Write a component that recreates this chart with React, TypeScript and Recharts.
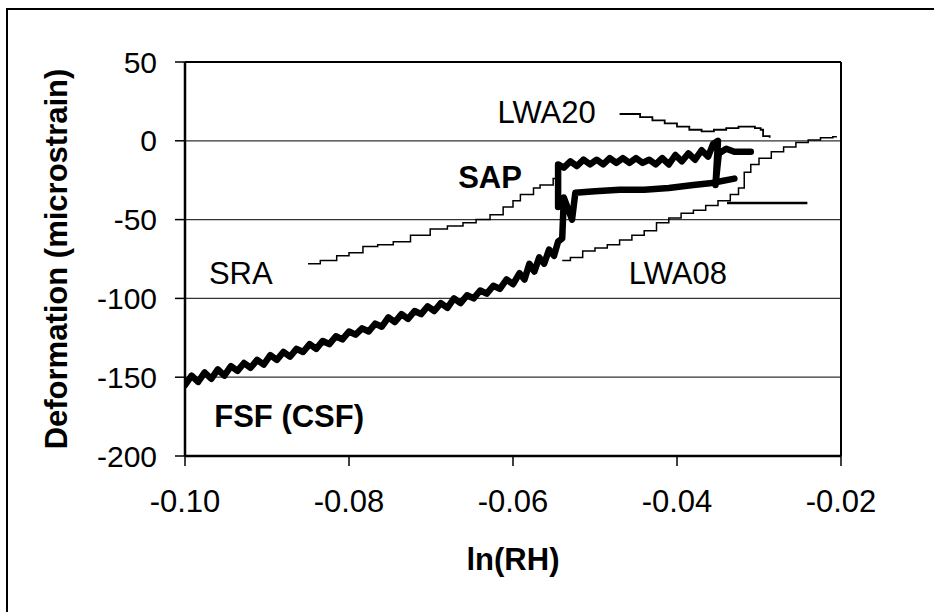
import React from 'react';
import { ComposedChart, Line, XAxis, YAxis, CartesianGrid, ReferenceLine, ReferenceDot } from 'recharts';

const xTicks = [-0.1, -0.08, -0.06, -0.04, -0.02];
const yTicks = [-200, -150, -100, -50, 0, 50];

// FSF (CSF) drying branch + lower loop band (thick)
const fsf = [
  { x: -0.1, y: -155 }, { x: -0.0992, y: -149 }, { x: -0.0984, y: -153 }, { x: -0.0976, y: -147 },
  { x: -0.0968, y: -151 }, { x: -0.096, y: -145 }, { x: -0.0952, y: -149 }, { x: -0.0944, y: -143 },
  { x: -0.0936, y: -146 }, { x: -0.0928, y: -141 }, { x: -0.092, y: -144 }, { x: -0.0912, y: -139 },
  { x: -0.0904, y: -142 }, { x: -0.0896, y: -136 }, { x: -0.0888, y: -139 }, { x: -0.088, y: -134 },
  { x: -0.0872, y: -137 }, { x: -0.0864, y: -132 }, { x: -0.0856, y: -134 }, { x: -0.0848, y: -129 },
  { x: -0.084, y: -132 }, { x: -0.0832, y: -127 }, { x: -0.0824, y: -129 }, { x: -0.0816, y: -124 },
  { x: -0.0808, y: -126 }, { x: -0.08, y: -121 }, { x: -0.0792, y: -123 }, { x: -0.0784, y: -119 },
  { x: -0.0776, y: -121 }, { x: -0.0768, y: -116 }, { x: -0.076, y: -118 }, { x: -0.0752, y: -112 },
  { x: -0.0744, y: -115 }, { x: -0.0736, y: -110 }, { x: -0.0728, y: -113 }, { x: -0.072, y: -108 },
  { x: -0.0712, y: -110 }, { x: -0.0704, y: -105 }, { x: -0.0696, y: -108 }, { x: -0.0688, y: -103 },
  { x: -0.068, y: -106 }, { x: -0.0672, y: -100 }, { x: -0.0664, y: -103 }, { x: -0.0656, y: -98 },
  { x: -0.0648, y: -100 }, { x: -0.064, y: -95 }, { x: -0.0632, y: -97 }, { x: -0.0624, y: -92 },
  { x: -0.0616, y: -94 }, { x: -0.0608, y: -88 }, { x: -0.06, y: -91 }, { x: -0.0592, y: -84 },
  { x: -0.0586, y: -88 }, { x: -0.058, y: -78 }, { x: -0.0574, y: -83 }, { x: -0.0568, y: -74 },
  { x: -0.0562, y: -78 }, { x: -0.0556, y: -69 }, { x: -0.055, y: -73 }, { x: -0.0545, y: -64 },
  { x: -0.054, y: -62 }, { x: -0.0538, y: -36 }, { x: -0.0528, y: -50 }, { x: -0.0524, y: -33 },
  { x: -0.05, y: -32 }, { x: -0.047, y: -31 }, { x: -0.044, y: -31 }, { x: -0.041, y: -30 },
  { x: -0.038, y: -28 }, { x: -0.036, y: -27 }, { x: -0.035, y: -26 }, { x: -0.033, y: -24 },
];

// SAP upper loop band (thick)
const sap = [
  { x: -0.0545, y: -42 }, { x: -0.0545, y: -15 }, { x: -0.0538, y: -17 }, { x: -0.053, y: -13 },
  { x: -0.0522, y: -16 }, { x: -0.0514, y: -12 }, { x: -0.0506, y: -15 }, { x: -0.0498, y: -12 },
  { x: -0.049, y: -15 }, { x: -0.0482, y: -11 }, { x: -0.0474, y: -14 }, { x: -0.0466, y: -11 },
  { x: -0.0458, y: -14 }, { x: -0.045, y: -11 }, { x: -0.0442, y: -14 }, { x: -0.0434, y: -12 },
  { x: -0.0426, y: -15 }, { x: -0.0418, y: -11 }, { x: -0.041, y: -15 }, { x: -0.0402, y: -9 },
  { x: -0.0394, y: -13 }, { x: -0.0386, y: -8 }, { x: -0.0378, y: -12 }, { x: -0.037, y: -6 },
  { x: -0.0362, y: -10 }, { x: -0.0356, y: -2 }, { x: -0.035, y: 0 }, { x: -0.0353, y: -28 },
  { x: -0.0349, y: -8 }, { x: -0.034, y: -5 }, { x: -0.033, y: -7 }, { x: -0.031, y: -7 },
];

const sra = [
  { x: -0.085, y: -78 }, { x: -0.0835, y: -76 }, { x: -0.0815, y: -73 }, { x: -0.08, y: -71 },
  { x: -0.0783, y: -67 }, { x: -0.0765, y: -66 }, { x: -0.0746, y: -64 }, { x: -0.0725, y: -60 },
  { x: -0.0701, y: -56 }, { x: -0.068, y: -54 }, { x: -0.0661, y: -52 }, { x: -0.0645, y: -50 },
  { x: -0.0628, y: -47 }, { x: -0.0612, y: -42 }, { x: -0.06, y: -38 }, { x: -0.0591, y: -34 },
  { x: -0.0575, y: -30 }, { x: -0.0567, y: -28 }, { x: -0.0551, y: -24 }, { x: -0.0545, y: -18 },
];

const lwa08 = [
  { x: -0.054, y: -76 }, { x: -0.053, y: -74 }, { x: -0.0515, y: -70 }, { x: -0.05, y: -68 },
  { x: -0.0485, y: -66 }, { x: -0.047, y: -63 }, { x: -0.0455, y: -60 }, { x: -0.044, y: -57 },
  { x: -0.0425, y: -52 }, { x: -0.041, y: -49 }, { x: -0.0395, y: -46 }, { x: -0.038, y: -44 },
  { x: -0.0365, y: -41 }, { x: -0.035, y: -38 }, { x: -0.0335, y: -34 }, { x: -0.0325, y: -30 },
  { x: -0.0318, y: -20 }, { x: -0.031, y: -15 }, { x: -0.03, y: -11 }, { x: -0.0285, y: -7 },
  { x: -0.027, y: -4 }, { x: -0.0255, y: -1 }, { x: -0.024, y: 0.5 }, { x: -0.0225, y: 2 },
  { x: -0.021, y: 2.5 }, { x: -0.0205, y: 2.5 },
];

const lwa08Start = [{ x: -0.0339, y: -39.5 }, { x: -0.0241, y: -39.5 }];

const lwa20 = [
  { x: -0.047, y: 17 }, { x: -0.0455, y: 17 }, { x: -0.0445, y: 15 }, { x: -0.043, y: 13 },
  { x: -0.0415, y: 11 }, { x: -0.04, y: 9 }, { x: -0.0385, y: 7 }, { x: -0.037, y: 6 },
  { x: -0.0355, y: 7 }, { x: -0.034, y: 8 }, { x: -0.0325, y: 9 }, { x: -0.0305, y: 8 },
  { x: -0.0298, y: 7 }, { x: -0.0295, y: 3 }, { x: -0.0287, y: 2 },
];

const notes = [
  { x: -0.0559, y: 18.3, text: 'LWA20', bold: false },
  { x: -0.0628, y: -23, text: 'SAP', bold: true },
  { x: -0.0932, y: -84, text: 'SRA', bold: false },
  { x: -0.0399, y: -84, text: 'LWA08', bold: false },
  { x: -0.0873, y: -174.6, text: 'FSF (CSF)', bold: true },
];

const FONT = '"Liberation Sans", Arial, sans-serif';

export default function App() {
  return (
    <div style={{ position: 'absolute', left: 0, top: 0, width: 934, height: 612, overflow: 'hidden', background: '#fff' }}>
      <div style={{ position: 'absolute', left: 6, top: 8, width: 960, height: 640, border: '2px solid #000', boxSizing: 'border-box' }} />
      <div style={{ position: 'absolute', left: 0, top: 0 }}>
        <ComposedChart width={934} height={612} margin={{ top: 62, right: 93, left: 85, bottom: 56 }}>
          <CartesianGrid vertical={false} stroke="#333" strokeWidth={1.2} />
          <XAxis
            type="number"
            dataKey="x"
            domain={[-0.1, -0.02]}
            ticks={xTicks}
            allowDataOverflow
            height={100}
            tickFormatter={(v: number) => v.toFixed(2)}
            tick={{ fill: '#000', fontSize: 31, fontFamily: FONT }}
            tickSize={10}
            tickMargin={24}
            axisLine={{ stroke: '#000', strokeWidth: 2.5 }}
            tickLine={{ stroke: '#000', strokeWidth: 1.5 }}
            label={{
              content: (p: any) => {
                const vb = p.viewBox || { x: 185, y: 456, width: 656 };
                return (
                  <text x={vb.x + vb.width / 2} y={vb.y + 114} textAnchor="middle" fontFamily={FONT} fontWeight="bold" fontSize={31} fill="#000">
                    ln(RH)
                  </text>
                );
              },
            }}
          />
          <YAxis
            type="number"
            domain={[-200, 50]}
            ticks={yTicks}
            allowDataOverflow
            width={100}
            tick={{ fill: '#000', fontSize: 30, fontFamily: FONT }}
            tickSize={10}
            tickMargin={18}
            axisLine={{ stroke: '#000', strokeWidth: 2.5 }}
            tickLine={{ stroke: '#000', strokeWidth: 1.5 }}
            label={{
              content: (p: any) => {
                const vb = p.viewBox || { x: 85, y: 62, height: 394 };
                const cx = vb.x - 18;
                const cy = vb.y + vb.height / 2;
                return (
                  <text x={cx} y={cy} transform={`rotate(-90 ${cx} ${cy})`} textAnchor="middle" fontFamily={FONT} fontWeight="bold" fontSize={31} fill="#000">
                    Deformation (microstrain)
                  </text>
                );
              },
            }}
          />
          <ReferenceLine y={50} stroke="#000" strokeWidth={2} />
          <ReferenceLine x={-0.02} stroke="#000" strokeWidth={2} />
          <Line data={sra} dataKey="y" type="stepAfter" dot={false} stroke="#000" strokeWidth={1.5} isAnimationActive={false} />
          <Line data={lwa08} dataKey="y" type="stepAfter" dot={false} stroke="#000" strokeWidth={1.5} isAnimationActive={false} />
          <Line data={lwa08Start} dataKey="y" type="linear" dot={false} stroke="#000" strokeWidth={2.5} isAnimationActive={false} />
          <Line data={lwa20} dataKey="y" type="stepAfter" dot={false} stroke="#000" strokeWidth={1.8} isAnimationActive={false} />
          <Line data={fsf} dataKey="y" type="linear" dot={false} stroke="#000" strokeWidth={6.5} strokeLinejoin="round" strokeLinecap="round" isAnimationActive={false} />
          <Line data={sap} dataKey="y" type="linear" dot={false} stroke="#000" strokeWidth={6.5} strokeLinejoin="round" strokeLinecap="round" isAnimationActive={false} />
          {notes.map((n) => (
            <ReferenceDot
              key={n.text}
              x={n.x}
              y={n.y}
              r={0}
              fill="none"
              stroke="none"
              label={{ value: n.text, position: 'center', fill: '#000', fontSize: 31, fontFamily: FONT, fontWeight: n.bold ? 'bold' : 'normal' }}
            />
          ))}
        </ComposedChart>
      </div>
    </div>
  );
}
